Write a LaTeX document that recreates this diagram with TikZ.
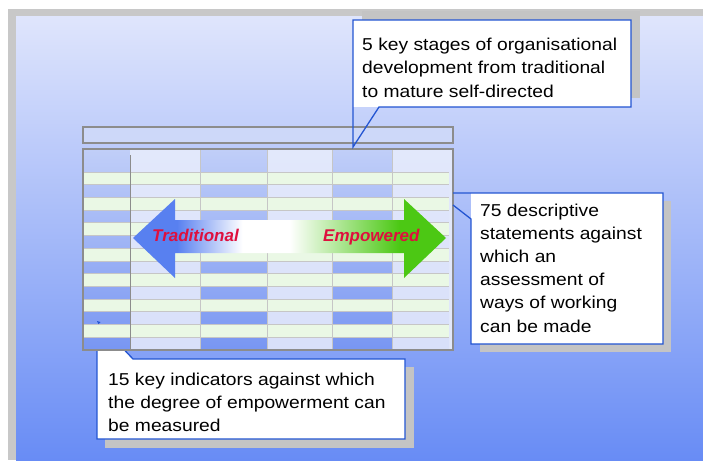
\documentclass[tikz,border=0pt]{standalone}
\usepackage{fontspec}
\usepackage{xcolor}
\usepackage{tikz}
\newfontfamily\notefont[FakeStretch=1.12]{Liberation Sans}
\newfontfamily\arrowfont{Liberation Sans}

\definecolor{framegray}{RGB}{200,200,200}
\definecolor{shadowgray}{RGB}{196,196,196}
\definecolor{bgtop}{RGB}{223,229,252}
\definecolor{bgmid}{RGB}{172,191,246}
\definecolor{bgbot}{RGB}{104,140,245}
\definecolor{calloutblue}{RGB}{35,85,210}
\definecolor{tablegray}{RGB}{140,140,140}
\definecolor{gridgray}{RGB}{198,198,198}
\definecolor{headblue}{RGB}{205,216,249}
\definecolor{paletop}{RGB}{226,232,251}
\definecolor{palebot}{RGB}{216,224,250}
\definecolor{deeptop}{RGB}{192,206,248}
\definecolor{deepbot}{RGB}{120,150,242}
\definecolor{stripgreen}{RGB}{234,248,229}
\definecolor{arrblue}{RGB}{88,128,240}
\definecolor{arrgreen}{RGB}{76,200,20}
\definecolor{labelred}{RGB}{222,16,62}

\pgfdeclarehorizontalshading{tradtoemp}{100bp}{color(0bp)=(arrblue); color(32bp)=(arrblue);
  color(42.5bp)=(white); color(50bp)=(white); color(67.5bp)=(arrgreen); color(100bp)=(arrgreen)}

\tikzset{
  calloutline/.style={draw=calloutblue, line width=1.3pt, line join=miter},
  tableline/.style={draw=tablegray, line width=1.5pt},
  gridline/.style={draw=gridgray, line width=0.8pt},
  palecol/.style={top color=paletop, bottom color=palebot},
  deepcol/.style={top color=deeptop, bottom color=deepbot},
  notetext/.style={anchor=base west, inner sep=0pt, font=\notefont\fontsize{17.2}{23.2}\selectfont},
  arrowlabel/.style={anchor=base west, inner sep=0pt, text=labelred,
    font=\arrowfont\bfseries\itshape\fontsize{17}{17}\selectfont}
}

\begin{document}
\begin{tikzpicture}[x=1pt, y=-1pt]
  \useasboundingbox (0,0) rectangle (703,460);
  \fill[white] (0,0) rectangle (703,460);
  \fill[framegray] (8,9) rectangle (703,460);
  \shade[top color=bgtop, middle color=bgmid, bottom color=bgbot] (16,17) rectangle (703,460);

  \fill[shadowgray] (362,11) rectangle (640,98);
  \fill[shadowgray] (480,201) rectangle (671,352);
  \fill[shadowgray] (105,367) rectangle (414,448);

  \coordinate (indtip) at (97,321);
  \filldraw[calloutline, fill=white] (indtip) -- (97,439) -- (405,439) -- (405,359) -- (133,359) -- cycle;

  \filldraw[tableline, fill=headblue] (83,127) rectangle (453,143);

  \fill[paletop] (83,149) rectangle (453,350);
  \shade[deepcol] (84,150) rectangle (130,350);
  \shade[palecol] (130,150) rectangle (200,350);
  \shade[deepcol] (200,150) rectangle (267.5,350);
  \shade[palecol] (267.5,150) rectangle (332,350);
  \shade[deepcol] (332,150) rectangle (392.5,350);
  \shade[palecol] (392.5,150) rectangle (449,350);
  \foreach \k in {0,...,6}
    \fill[stripgreen] (84,{172+2*\k*12.714}) rectangle (449,{172+(2*\k+1)*12.714});
  \foreach \k in {0,...,13}
    \draw[gridline] (84,{172+\k*12.714}) -- (449,{172+\k*12.714});
  \foreach \c in {200,267.5,332,392.5}
    \draw[gridline] (\c,150) -- (\c,350);
  \draw[draw=tablegray, line width=1pt] (130.5,155) -- (130.5,350);
  \draw[tableline] (83,149) rectangle (453,350);

  \shade[shading=tradtoemp] (133,238) -- (175,199) -- (175,220) -- (404,220) -- (404,199)
    -- (446,238) -- (404,278) -- (404,253) -- (175,253) -- (175,278) -- cycle;
  \node[arrowlabel] (trad) at (152,241.5) {Traditional};
  \node[arrowlabel] (emp) at (323,241.5) {Empowered};

  \fill[white] (471,193) rectangle (663,344);
  \draw[calloutline] (453,205) -- (471,219) -- (471,344) -- (663,344) -- (663,193) -- (453,193);

  \fill[white] (353,20) rectangle (631,107);
  \draw[calloutline] (353,147) -- (353,20) -- (631,20) -- (631,107) -- (379,107) -- cycle;

  \fill[calloutblue] (indtip) -- (100.5,322) -- (98.5,324) -- cycle;

  \node[notetext] (stages) at (362,50.7)
    {\parbox[t]{280pt}{5 key stages of organisational\\development from traditional\\to mature self-directed}};
  \node[notetext] (statements) at (480,216)
    {\parbox[t]{185pt}{75 descriptive\\statements against\\which an\\assessment of\\ways of working\\can be made}};
  \node[notetext] (indicators) at (108,385)
    {\parbox[t]{295pt}{15 key indicators against which\\the degree of empowerment can\\be measured}};
\end{tikzpicture}
\end{document}
